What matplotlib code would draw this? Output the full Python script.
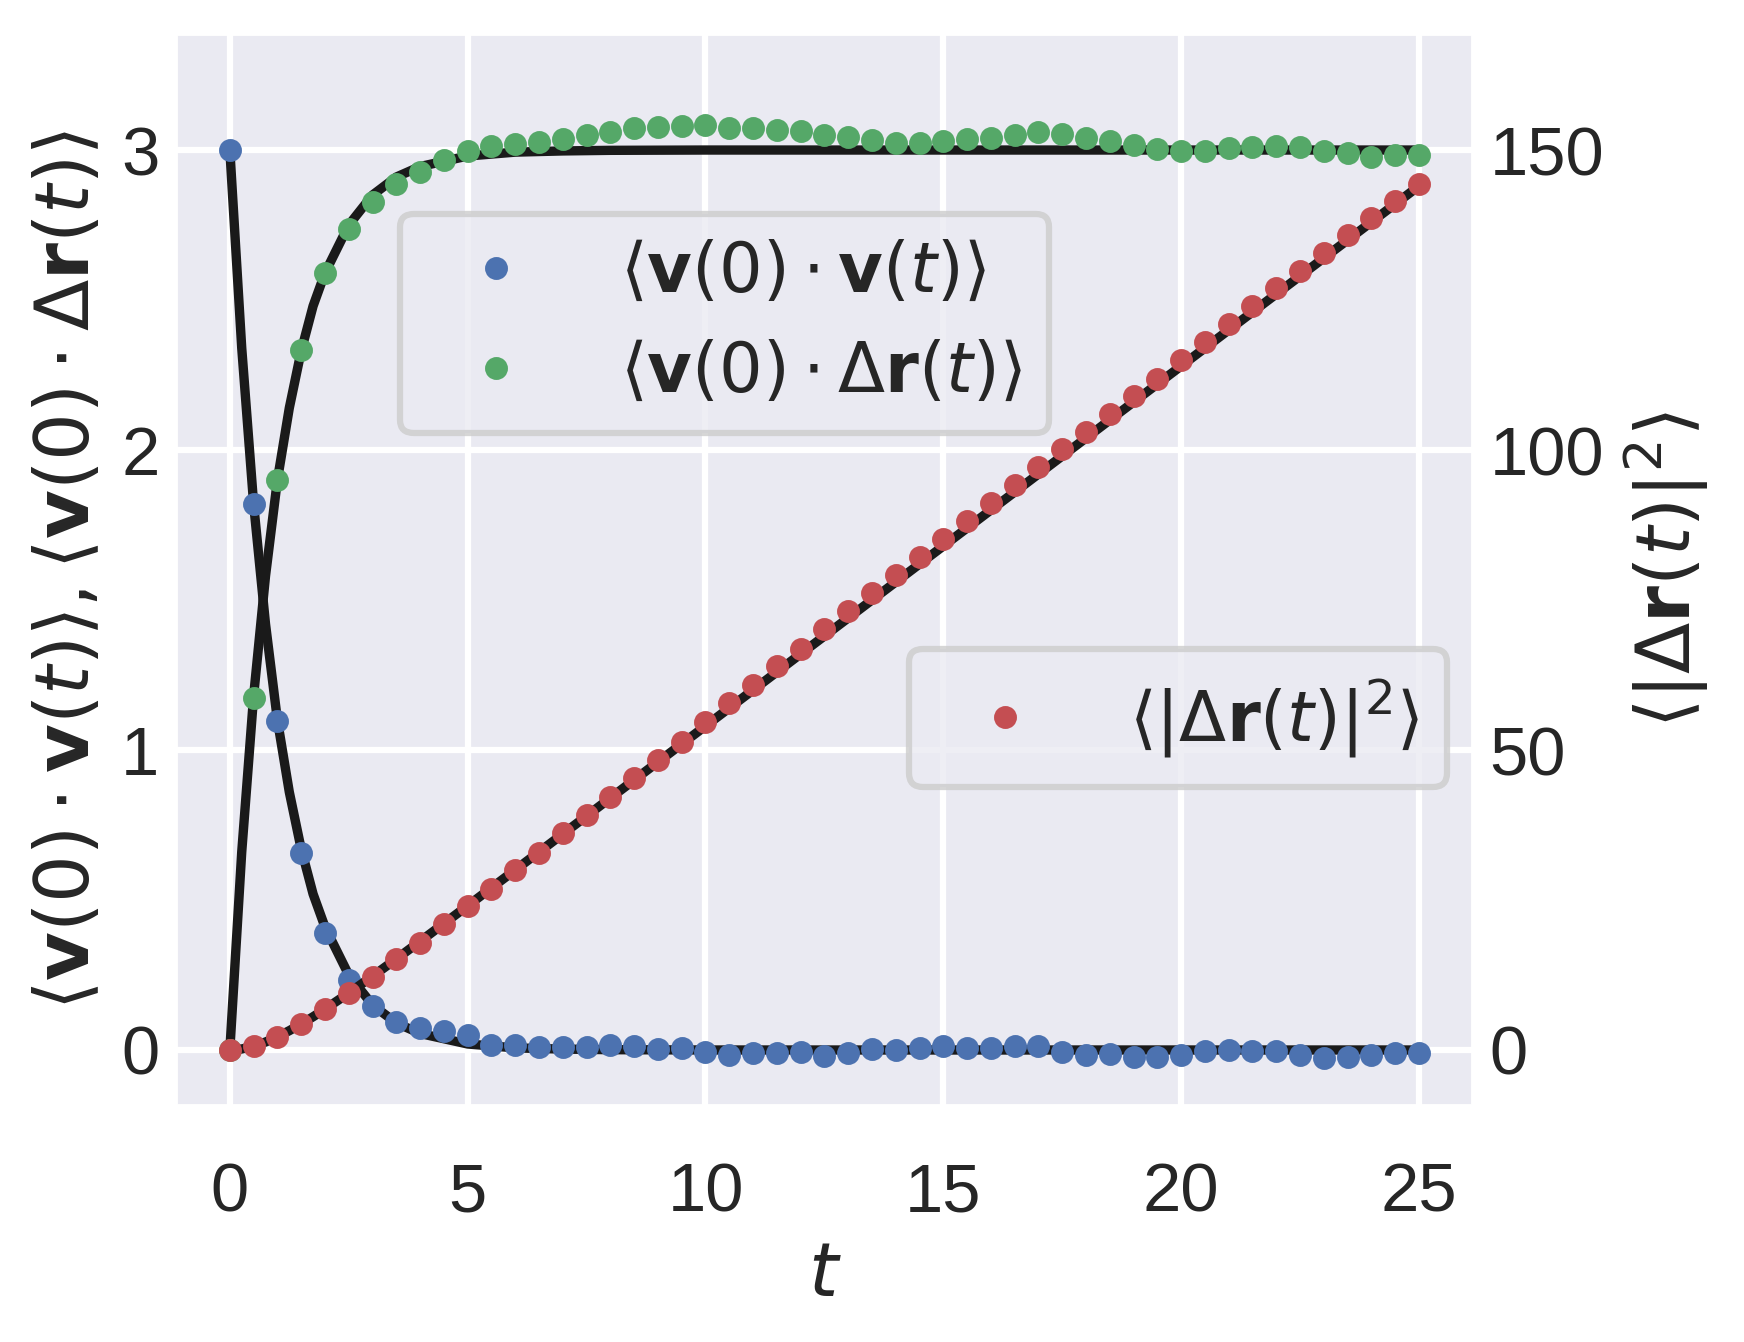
import numpy as np
import matplotlib
matplotlib.use("Agg")
import matplotlib.pyplot as plt
import seaborn as sns

sns.set_theme(context="talk", style="darkgrid", color_codes=True)
plt.rcParams["font.family"] = ["Liberation Sans", "DejaVu Sans"]
plt.rcParams["mathtext.fontset"] = "dejavusans"

# time grid of the simulation samples
t = np.arange(0, 25.01, 0.5)

vacf = [3.0, 1.82, 1.098, 0.656, 0.389, 0.233, 0.147, 0.092, 0.072, 0.063,
        0.050, 0.016, 0.016, 0.009, 0.011, 0.009, 0.016, 0.013, 0.002, 0.006,
        -0.006, -0.018, -0.011, -0.009, -0.008, -0.021, -0.011, 0.002, -0.001, 0.006,
        0.012, 0.006, 0.006, 0.012, 0.012, -0.008, -0.018, -0.014, -0.022, -0.024,
        -0.018, -0.004, -0.001, -0.004, -0.004, -0.018, -0.028, -0.024, -0.018, -0.011,
        -0.011]

vdr = [0.0, 1.175, 1.90, 2.333, 2.589, 2.738, 2.828, 2.886, 2.928, 2.967,
       2.996, 3.013, 3.020, 3.027, 3.036, 3.050, 3.060, 3.073, 3.077, 3.079,
       3.082, 3.075, 3.072, 3.067, 3.064, 3.050, 3.042, 3.033, 3.022, 3.022,
       3.029, 3.036, 3.039, 3.050, 3.059, 3.052, 3.039, 3.029, 3.016, 3.002,
       2.996, 2.996, 3.006, 3.009, 3.012, 3.009, 2.996, 2.989, 2.977, 2.982,
       2.982]

msd = [0.0, 0.67, 2.17, 4.28, 6.83, 9.44, 12.1, 15.2, 17.9, 21.0,
       24.0, 26.9, 30.0, 32.9, 36.1, 39.1, 42.1, 45.3, 48.3, 51.4,
       54.6, 57.8, 60.8, 64.0, 66.9, 70.2, 73.2, 76.2, 79.2, 82.2,
       85.2, 88.2, 91.2, 94.2, 97.2, 100.2, 103.0, 106.0, 109.0, 111.9,
       115.0, 118.0, 121.0, 124.0, 127.0, 129.8, 132.8, 135.8, 138.7, 141.5,
       144.4]

# theory curves (black lines)
t_th = [0, 0.25, 0.5, 0.75, 1, 1.25, 1.5, 1.75, 2, 2.5, 3, 3.5, 4, 5, 6, 7, 8, 10, 25]
vacf_th = [3.0, 2.34, 1.82, 1.42, 1.10, 0.86, 0.67, 0.52, 0.41, 0.25, 0.15, 0.09,
           0.055, 0.02, 0.007, 0.003, 0.001, 0.0, 0.0]
vdr_th = [0.0, 0.66, 1.18, 1.58, 1.90, 2.14, 2.33, 2.48, 2.59, 2.75, 2.85, 2.91,
          2.945, 2.98, 2.993, 2.997, 2.999, 3.0, 3.0]
msd_th = [0.0, 0.17, 0.64, 1.33, 2.21, 3.22, 4.34, 5.54, 6.81, 9.49, 12.30, 15.18,
          18.11, 24.04, 30.01, 36.0, 42.0, 54.0, 144.0]

lab_vacf = r"$\langle \mathbf{v}(0) \cdot \mathbf{v}(t) \rangle$"
lab_vdr = r"$\langle \mathbf{v}(0) \cdot \Delta\mathbf{r}(t) \rangle$"
lab_msd = r"$\langle |\Delta\mathbf{r}(t)|^2 \rangle$"

fig = plt.figure(figsize=(1744 / 300, 1342 / 300), dpi=300)
ax = fig.add_axes([0.0998, 0.1740, 0.8458 - 0.0998, 0.9765 - 0.1740])

ax.plot(t_th, vacf_th, "k-")
ax.plot(t_th, vdr_th, "k-")
ax.plot(t, vacf, "b.", label=lab_vacf)
ax.plot(t, vdr, "g.", label=lab_vdr)
ax.set_xlim(-1.173, 26.18)
ax.set_ylim(-0.195, 3.395)
ax.set_xticks([0, 5, 10, 15, 20, 25])
ax.set_yticks([0, 1, 2, 3])
ax.set_xlabel(r"$t$")
ax.set_ylabel(r"$\langle \mathbf{v}(0) \cdot \mathbf{v}(t) \rangle, \langle \mathbf{v}(0) \cdot \Delta\mathbf{r}(t) \rangle$")
ax.legend(loc="upper left", bbox_to_anchor=(0.1737, 0.831), borderaxespad=0)

ax2 = ax.twinx()
ax2.grid(False)
ax2.plot(t_th, msd_th, "k-")
ax2.plot(t, msd, "r.", label=lab_msd)
ax2.set_ylim(-9.75, 169.75)
ax2.set_yticks([0, 50, 100, 150])
ax2.set_ylabel(lab_msd)
ax2.legend(loc="upper left", bbox_to_anchor=(0.565, 0.427), borderaxespad=0)
for s in ax2.spines.values():
    s.set_visible(False)

xpad = plt.rcParams["xtick.major.pad"] + 9.3
ax.tick_params(axis="both", length=0)
ax.tick_params(axis="x", pad=xpad)
ax2.tick_params(axis="both", length=0)

fig.savefig("out.png", dpi=300)
